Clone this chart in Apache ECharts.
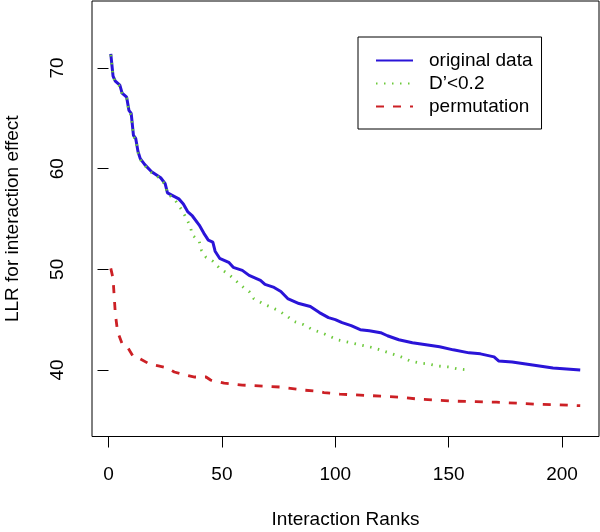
<!DOCTYPE html>
<html>
<head>
<meta charset="utf-8">
<script src="https://cdn.jsdelivr.net/npm/echarts@6/dist/echarts.min.js"></script>
<style>html,body{margin:0;padding:0;background:#fff;}#c{width:600px;height:532px;}</style>
</head>
<body>
<div id="c"></div>
<script>
// Ranks and values
var origRanks = [1,2,3,5,6,8,9,10,11,12,13,14,16,19,21,23,25,26,31,33,35,37,40,42,44,46,47,49,53,55,59,62,67,69,73,76,79,84,89,93,97,100,103,107,111,115,120,123,128,134,140,146,152,159,164,170,172,178,184,190,196,202,208];
var origValues = [71.4,69.2,68.7,68.3,67.5,67.1,65.8,65.5,63.3,63.0,61.7,61.0,60.4,59.7,59.4,59.1,58.5,57.6,57.0,56.5,55.7,55.3,54.4,53.6,52.9,52.7,51.8,51.1,50.7,50.2,49.9,49.4,48.9,48.5,48.2,47.8,47.1,46.6,46.3,45.7,45.2,45.0,44.7,44.4,44.0,43.9,43.7,43.4,43.0,42.7,42.5,42.3,42.0,41.7,41.6,41.3,40.9,40.8,40.6,40.4,40.2,40.1,40.0];

var dRanks = [1,2,3,5,6,8,9,10,11,12,13,14,16,19,21,23,25,26,29,32,34,36,37,40,41,43,46,49,53,56,59,62,64,68,71,75,79,82,86,90,94,97,101,105,109,113,117,121,125,129,133,137,141,145,150,154,159];
var dValues = [71.3,69.2,68.6,68.2,67.4,67.0,65.7,65.3,63.2,62.9,61.6,60.9,60.3,59.6,59.3,59.0,58.4,57.5,57.0,56.0,55.2,54.3,53.4,52.8,51.9,51.2,50.8,50.1,49.5,48.9,48.3,47.8,47.1,46.6,46.3,45.9,45.3,44.8,44.5,44.0,43.7,43.4,43.0,42.8,42.6,42.4,42.2,41.9,41.6,41.3,40.9,40.7,40.6,40.4,40.3,40.1,40.0];

var permRanks = [1,2,3,4,6,8,11,14,18,22,26,29,34,38,43,45,51,59,68,76,79,86,92,95,102,111,120,128,137,145,153,162,171,180,189,198,208];
var permValues = [50.1,49.1,45.6,43.8,42.6,42.4,41.3,41.1,40.6,40.4,40.2,39.8,39.5,39.3,39.3,39.0,38.7,38.5,38.4,38.3,38.2,38.0,37.9,37.75,37.6,37.5,37.4,37.3,37.1,37.0,36.9,36.85,36.8,36.7,36.6,36.55,36.45];

var xTicks = [0,50,100,150,200];
var yTicks = [40,50,60,70];
var seriesNames = ['original data', 'D\u2019<0.2', 'permutation'];

function pairs(r, v){ return r.map(function(x,i){ return [x, v[i]]; }); }

var FONT = 'Liberation Sans, Arial, Helvetica, sans-serif';
var chart = echarts.init(document.getElementById('c'), null, {renderer:'canvas'});
chart.setOption({
  animation: false,
  backgroundColor: '#fff',
  textStyle: {fontFamily: FONT},
  grid: {left: 92, top: 1, right: 1, bottom: 95.5, containLabel: false, outerBoundsMode: 'none',
         show: true, borderColor: '#000', borderWidth: 1, backgroundColor: 'transparent'},
  legend: {
    orient: 'vertical', left: 358, top: 37,
    itemWidth: 37, itemHeight: 14, itemGap: 0,
    padding: [12, 9, 11, 17],
    borderColor: '#000', borderWidth: 1,
    itemStyle: {opacity: 0, color: 'transparent', borderWidth: 0},
    textStyle: {fontSize: 19, color: '#000', fontFamily: FONT, lineHeight: 23, padding: [0,0,0,11]},
    data: seriesNames
  },
  xAxis: {
    type: 'value', min: -7.28, max: 216.28,
    name: 'Interaction Ranks', nameLocation: 'middle', nameGap: 74,
    nameTextStyle: {fontSize: 19, color: '#000', fontFamily: FONT},
    axisLine: {show: false},
    axisTick: {show: true, inside: false, length: 11, customValues: xTicks, lineStyle: {color: '#000', width: 1}},
    axisLabel: {customValues: xTicks, fontSize: 19, color: '#000', margin: 29, fontFamily: FONT},
    splitLine: {show: false}
  },
  yAxis: {
    type: 'value', min: 33.39, max: 76.66,
    name: 'LLR for interaction effect', nameLocation: 'middle', nameGap: 70, nameRotate: 90,
    nameTextStyle: {fontSize: 19, color: '#000', fontFamily: FONT},
    axisLine: {show: false},
    axisTick: {show: true, inside: false, length: 11, customValues: yTicks, lineStyle: {color: '#000', width: 1}},
    axisLabel: {customValues: yTicks, fontSize: 19, color: '#000', margin: 25, rotate: 90, fontFamily: FONT},
    splitLine: {show: false}
  },
  series: [
    {name: seriesNames[0], type: 'line', data: pairs(origRanks, origValues), symbol: 'none', lineStyle: {color: '#2a14d8', width: 3}, itemStyle: {color: '#2a14d8'}, z: 2},
    {name: seriesNames[1], type: 'line', data: pairs(dRanks, dValues), symbol: 'none', lineStyle: {color: '#6cc93a', width: 2.8, type: [1.5, 6.5], cap: 'butt'}, itemStyle: {color: '#6cc93a'}, z: 3},
    {name: seriesNames[2], type: 'line', data: pairs(permRanks, permValues), symbol: 'none', lineStyle: {color: '#cc2025', width: 2.8, type: [8, 9]}, itemStyle: {color: '#cc2025'}, z: 4}
  ]
});
</script>
</body>
</html>
